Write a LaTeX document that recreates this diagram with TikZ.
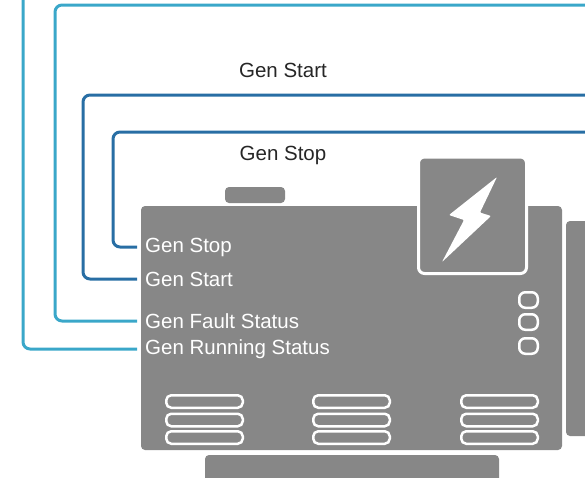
\documentclass[tikz,border=0pt]{standalone}
\usepackage{fontspec}
\setmainfont{Liberation Sans}
\usepackage{xcolor}
\usepackage{tikz}

\definecolor{gris}{RGB}{135,135,135}
\definecolor{celeste}{RGB}{58,167,201}
\definecolor{azul}{RGB}{40,110,164}
\definecolor{texto}{RGB}{38,38,38}

\begin{document}
\begin{tikzpicture}[x=1pt, y=-1pt,
  cuerpo/.style={fill=gris, rounded corners=4pt},
  linea/.style={line width=3pt, rounded corners=7pt},
  etiqueta/.style={anchor=west, inner xsep=8pt, inner ysep=0pt, text=white,
    font=\fontsize{20.5}{23}\selectfont},
  rejilla/.style={draw=white, line width=2.5pt, rounded corners=5pt},
  luz/.style={draw=white, line width=2.5pt, rounded corners=6pt}]
\useasboundingbox (0,0) rectangle (585,477);
\clip (0,0) rectangle (585,477);

% Generador: base, asa y paneles
\fill[cuerpo] (205,455) rectangle (499,490);
\fill[cuerpo] (566,221) rectangle (600,436);
\fill[cuerpo] (225,187) rectangle (285,203);
\fill[cuerpo] (141,206) rectangle (562,450);

% Caja del rayo
\draw[cuerpo, draw=white, line width=3pt, rounded corners=6pt]
  (418.5,157) rectangle (526.5,273.5);
\fill[white, rounded corners=1pt]
  (497,177) -- (449,215) -- (464,220) -- (442,262) -- (491,216) -- (480,212.5) -- cycle;

% Luces indicadoras
\foreach \y in {300,322,346}
  \draw[luz] (519.25,\y-7.75) rectangle (537.75,\y+7.75);

% Rejillas de ventilación
\foreach \x in {165,312,460}
  \foreach \y in {401.5,420,437.5}
    \draw[rejilla] (\x+1.25,\y-6.25) rectangle (\x+77.75,\y+6.25);

% Etiquetas de las señales
\node[etiqueta] (paro) at (137,247) {Gen Stop};
\node[etiqueta] (arranque) at (137,279) {Gen Start};
\node[etiqueta] (falla) at (137,321) {Gen Fault Status};
\node[etiqueta] (marcha) at (137,349) {Gen Running Status};

% Textos superiores
\node[text=texto, font=\fontsize{20.5}{23}\selectfont] (tarranque) at (283,70) {Gen Start};
\node[text=texto, font=\fontsize{20.5}{23}\selectfont] (tparo) at (283,155) {Gen Stop};

% Puntos de entrada de las líneas
\coordinate (e1) at (23,-10);
\coordinate (e2) at (600,5);
\coordinate (k2) at (55,5);
\coordinate (e3) at (600,95);
\coordinate (k3) at (83,95);
\coordinate (e4) at (600,132);
\coordinate (k4) at (113,132);

% Líneas de señal
\draw[linea, celeste] (e1) |- (marcha.west);
\draw[linea, celeste] (e2) -- (k2) |- (falla.west);
\draw[linea, azul] (e3) -- (k3) |- (arranque.west);
\draw[linea, azul] (e4) -- (k4) |- (paro.west);

\end{tikzpicture}
\end{document}
